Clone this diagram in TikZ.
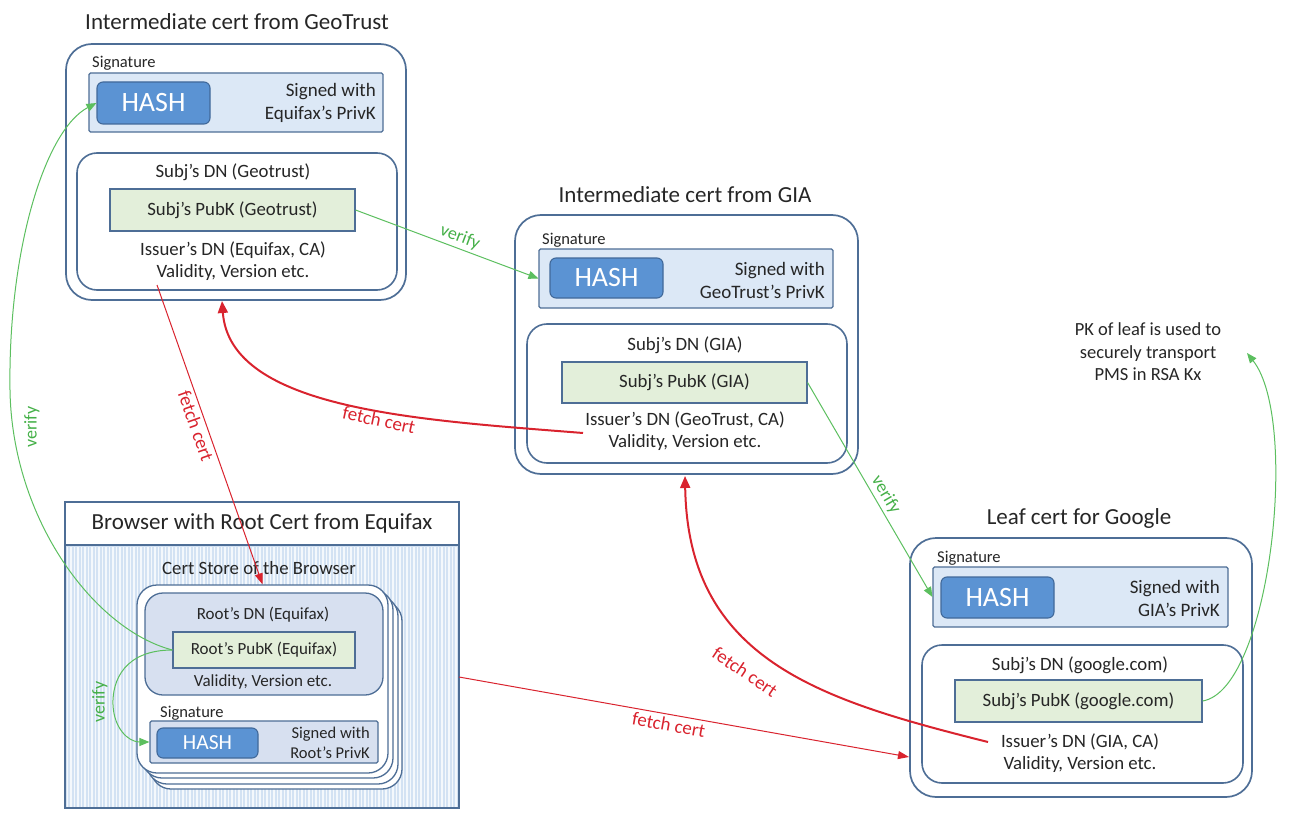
\documentclass[tikz,border=0pt]{standalone}
\usepackage{fontspec}
\setmainfont{Carlito}
\usetikzlibrary{arrows.meta}
\definecolor{bordc}{HTML}{4E6E96}
\definecolor{sigfill}{HTML}{DCE8F6}
\definecolor{hashfill}{HTML}{5B93D3}
\definecolor{hashbord}{HTML}{41699A}
\definecolor{pubfill}{HTML}{E3EFDA}
\definecolor{rootfill}{HTML}{D7E0F0}
\definecolor{textc}{HTML}{262626}
\definecolor{vgreen}{HTML}{5CBF5F}
\definecolor{vtext}{HTML}{45B048}
\definecolor{fred}{HTML}{D9232E}
\definecolor{brfill}{HTML}{D3E2F3}
\definecolor{stripec}{HTML}{F4F8FC}
\begin{document}
\begin{tikzpicture}[x=1pt,y=-1pt,
  outerbox/.style={draw=bordc, line width=1.7pt, rounded corners=26pt, fill=white, inner sep=0pt},
  dnbox/.style={draw=bordc, line width=1.6pt, rounded corners=20pt, inner sep=0pt},
  sigbox/.style={draw=bordc, line width=1.1pt, fill=sigfill, rounded corners=1.5pt, inner sep=0pt},
  hashbox/.style={draw=hashbord, line width=1.1pt, fill=hashfill, rounded corners=6pt, text=white, font=\fontsize{28}{28}\selectfont, inner sep=0pt},
  pubbox/.style={draw=bordc, line width=1.1pt, fill=pubfill, inner sep=0pt, text=textc, font=\fontsize{18.8}{20}\selectfont},
  txt/.style={text=textc, font=\fontsize{18.8}{22}\selectfont, align=center, inner sep=0pt},
  rtxt/.style={text=textc, font=\fontsize{19}{23}\selectfont, align=right, inner sep=0pt, anchor=east},
  titletxt/.style={text=textc, font=\fontsize{23}{26}\selectfont, inner sep=0pt},
  smalltxt/.style={text=textc, font=\fontsize{16.5}{18}\selectfont, inner sep=0pt, anchor=west},
  cardbox/.style={draw=bordc, line width=1.3pt, fill=white, rounded corners=20pt, inner sep=0pt},
  verifyarrow/.style={draw=vgreen, line width=1pt, -{Triangle[length=10pt,width=8pt]}},
  fetchthin/.style={draw=fred, line width=1pt, -{Triangle[length=11pt,width=8pt]}},
  fetchthick/.style={draw=fred, line width=2pt, -{Triangle[length=12pt,width=10pt]}},
  vlabel/.style={text=vtext, font=\fontsize{18}{18}\selectfont, inner sep=1pt},
  flabel/.style={text=fred, font=\fontsize{19}{19}\selectfont, inner sep=1pt}
]
\useasboundingbox (0,0) rectangle (1294,824);

% ---------------- GeoTrust intermediate ----------------
\node[titletxt] (t1) at (237,22) {Intermediate cert from GeoTrust};
\node[outerbox, minimum width=340, minimum height=256] (g1) at (236,172) {};
\node[smalltxt] (sl1) at (92,63) {Signature};
\node[sigbox, minimum width=294, minimum height=59] (s1) at (236,102.5) {};
\node[hashbox, minimum width=113, minimum height=42] (h1) at (153.5,103) {HASH};
\node[rtxt] (sw1) at (376,103) {Signed with\\Equifax’s PrivK};
\node[dnbox, minimum width=320, minimum height=137] (d1) at (237,221.5) {};
\node[txt] (dn1) at (233,172) {Subj’s DN (Geotrust)};
\node[pubbox, minimum width=245, minimum height=42] (p1) at (232.5,210) {Subj’s PubK (Geotrust)};
\node[txt] (i1) at (233,261) {Issuer’s DN (Equifax, CA)\\Validity, Version etc.};

% ---------------- GIA intermediate ----------------
\node[titletxt] (t2) at (685,195) {Intermediate cert from GIA};
\node[outerbox, minimum width=343, minimum height=259] (g2) at (686.5,344.5) {};
\node[smalltxt] (sl2) at (542,240) {Signature};
\node[sigbox, minimum width=294, minimum height=59] (s2) at (686,278.5) {};
\node[hashbox, minimum width=113, minimum height=40] (h2) at (606.5,278) {HASH};
\node[rtxt] (sw2) at (825,280) {Signed with\\GeoTrust’s PrivK};
\node[dnbox, minimum width=320, minimum height=139] (d2) at (687,393.5) {};
\node[txt] (dn2) at (685,345) {Subj’s DN (GIA)};
\node[pubbox, minimum width=245, minimum height=41] (p2) at (684.5,382.5) {Subj’s PubK (GIA)};
\node[txt] (i2) at (685,431) {Issuer’s DN (GeoTrust, CA)\\Validity, Version etc.};

% ---------------- Leaf ----------------
\node[titletxt] (t3) at (1079,518) {Leaf cert for Google};
\node[outerbox, minimum width=342, minimum height=259] (g3) at (1081,667.5) {};
\node[smalltxt] (sl3) at (937,558) {Signature};
\node[sigbox, minimum width=295, minimum height=60] (s3) at (1080.5,597) {};
\node[hashbox, minimum width=113, minimum height=41] (h3) at (997.5,597.5) {HASH};
\node[rtxt] (sw3) at (1220,598) {Signed with\\GIA’s PrivK};
\node[dnbox, minimum width=321, minimum height=138] (d3) at (1082.5,714) {};
\node[txt] (dn3) at (1080,665) {Subj’s DN (google.com)};
\node[pubbox, minimum width=247, minimum height=42] (p3) at (1078.5,701) {Subj’s PubK (google.com)};
\node[txt] (i3) at (1080,753) {Issuer’s DN (GIA, CA)\\Validity, Version etc.};

% ---------------- Browser ----------------
\node[draw=bordc, fill=white, line width=1.2pt, minimum width=394, minimum height=43, inner sep=0pt, titletxt] (bh) at (262,523.5) {Browser with Root Cert from Equifax};
\node[draw=bordc, fill=brfill, line width=1.2pt, minimum width=394, minimum height=263, inner sep=0pt] (bb) at (262,676.5) {};
\foreach \x in {67.5,71,...,457} \draw[stripec, line width=1.1pt] (\x,547) -- (\x,807);
\node[draw=bordc, line width=1.2pt, minimum width=394, minimum height=263, inner sep=0pt] (bbo) at (262,676.5) {};
\node[txt] (cs) at (259,568) {Cert Store of the Browser};
\node[cardbox, minimum width=251, minimum height=188] (c3) at (276.5,695) {};
\node[cardbox, minimum width=251, minimum height=188] (c2) at (272.5,690) {};
\node[cardbox, minimum width=251, minimum height=188] (c1) at (267.5,684) {};
\node[cardbox, minimum width=251, minimum height=188] (c0) at (262.5,679) {};
\node[draw=bordc, line width=1.3pt, fill=rootfill, rounded corners=18pt, minimum width=238, minimum height=102, inner sep=0pt] (r) at (264,644) {};
\node[txt, font=\fontsize{17}{18}\selectfont] (rdn) at (263,615) {Root’s DN (Equifax)};
\node[pubbox, font=\fontsize{17}{18}\selectfont, minimum width=182, minimum height=36] (rp) at (264,650) {Root’s PubK (Equifax)};
\node[txt, font=\fontsize{17}{18}\selectfont] (rv) at (263,682) {Validity, Version etc.};
\node[smalltxt] (sl4) at (160,713) {Signature};
\node[sigbox, fill=rootfill, minimum width=228, minimum height=42] (rs) at (264,742) {};
\node[hashbox, font=\fontsize{21.5}{21.5}\selectfont, minimum width=101, minimum height=30] (rh) at (207.5,743) {HASH};
\node[rtxt, font=\fontsize{16.5}{19.5}\selectfont] (rsw) at (370,743) {Signed with\\Root’s PrivK};

% ---------------- PK note ----------------
\node[txt, font=\fontsize{18.5}{22.5}\selectfont] (pk) at (1148,352) {PK of leaf is used to\\securely transport\\PMS in RSA Kx};

% ---------------- coordinates ----------------
\coordinate (fe1s) at (157,285);
\coordinate (fe2s) at (583,433);
\coordinate (fe2e) at (222,301);
\coordinate (fe3s) at (988,742);
\coordinate (fe3e) at (685,476);
\coordinate (fe4s) at (459,677);
\coordinate (fe4e) at (909,757);
\coordinate (pkend) at (1247,353);

% ---------------- verify arrows ----------------
\draw[verifyarrow] (p1.east) -- node[vlabel, pos=0.55, above=2pt, sloped] (vl1) {verify} (s2.west);
\draw[verifyarrow] (p2.east) -- node[vlabel, pos=0.55, above=2pt, sloped] (vl2) {verify} (s3.west);
\draw[verifyarrow] (rp.west) .. controls (95,630) and (12,520) .. (10,390) .. controls (8,250) and (45,130) .. (h1.west);
\node[vlabel, rotate=90] (vl3) at (32,427) {verify};
\draw[verifyarrow] (rp.west) .. controls (125,650) and (112,680) .. (113,705) .. controls (114,728) and (128,742) .. (rs.west);
\node[vlabel, rotate=90] (vl4) at (100,702) {verify};
\draw[verifyarrow] (p3.east) .. controls (1270,690) and (1300,420) .. (pkend);

% ---------------- fetch arrows ----------------
\draw[fetchthin] (fe1s) -- node[flabel, pos=0.46, below=2pt, sloped] (fl1) {fetch cert} (c0.north);
\draw[fetchthick] (fe2s) .. controls (420,420) and (230,410) .. (fe2e);
\node[flabel, rotate=-12] (fl2) at (379,420) {fetch cert};
\draw[fetchthick] (fe3s) .. controls (820,700) and (688,660) .. (fe3e);
\node[flabel, rotate=-34] (fl3) at (745,672) {fetch cert};
\draw[fetchthin] (fe4s) -- node[flabel, pos=0.47, below=2pt, sloped] (fl4) {fetch cert} (fe4e);
\end{tikzpicture}
\end{document}
